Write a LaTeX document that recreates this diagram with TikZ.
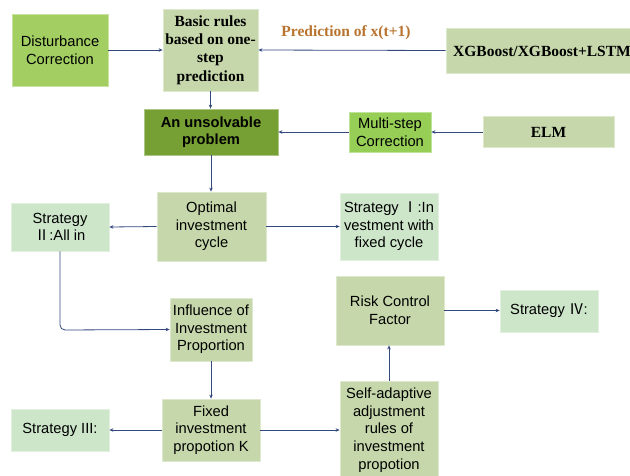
\documentclass[tikz,border=0pt]{standalone}
\usepackage{fontspec}
\setmainfont{Liberation Serif}
\setsansfont{Liberation Sans}
\newfontfamily\cjk{Noto Sans CJK SC}
\usetikzlibrary{arrows.meta}
\definecolor{olive}{HTML}{C6D8AB}
\definecolor{mint}{HTML}{CDE6CA}
\definecolor{brightg}{HTML}{A3CF62}
\definecolor{multig}{HTML}{96CE56}
\definecolor{darkolive}{HTML}{76A033}
\definecolor{arrowc}{HTML}{33497E}
\definecolor{predc}{HTML}{B8742E}
\tikzset{
  box/.style={rectangle, inner sep=0pt, align=center, line width=0.8pt,
    font=\sffamily\fontsize{14.7}{17.6}\selectfont},
  olivebox/.style={box, fill=olive, draw=olive!60!white},
  mintbox/.style={box, fill=mint, draw=mint!60!white},
  greenbox/.style={box, fill=brightg, draw=brightg!60!white},
  serifbold/.style={font=\rmfamily\bfseries\fontsize{15.5}{18.3}\selectfont},
  conn/.style={draw=arrowc, line width=0.8pt, -{Stealth[length=4pt,width=3.5pt]}},
}
\begin{document}
\begin{tikzpicture}[x=1pt,y=-1pt]
\path[use as bounding box] (0,0) rectangle (630,475);
\clip (0,0) rectangle (630,475);
\fill[white] (0,0) rectangle (630,475);

\node[greenbox, minimum width=96, minimum height=72] (dist) at (60,50) {Disturbance\\Correction};
\node[olivebox, serifbold, minimum width=95, minimum height=82] (basic) at (210.5,50) {Basic rules\\based on one-\\step\\prediction};
\node[olivebox, serifbold, minimum width=194, minimum height=45] (xgb) at (543,50.5) {};
\node[anchor=west, inner sep=0pt, serifbold] (xgbtext) at (453,51) {XGBoost/XGBoost+LSTM};
\node[inner sep=0pt, text=predc, serifbold] (pred) at (346,33) {Prediction of x(t+1)};

\node[box, fill=darkolive, draw=darkolive!60!white, font=\sffamily\bfseries\fontsize{14.7}{17.6}\selectfont, minimum width=134, minimum height=46] (unsolv) at (211,132) {An unsolvable\\problem};
\node[box, fill=multig, draw=multig!60!white, minimum width=82, minimum height=40] (multi) at (390,132) {Multi-step\\Correction};
\node[olivebox, serifbold, minimum width=131, minimum height=31] (elm) at (548.5,132) {ELM};

\node[olivebox, minimum width=109, minimum height=69] (opt) at (211.5,226.5) {Optimal\\investment\\cycle};
\node[mintbox, minimum width=98, minimum height=48] (s2) at (60,227) {Strategy\\{\cjk Ⅱ}:All in};
\node[mintbox, minimum width=98, minimum height=67] (s1) at (389,226.5) {Strategy {\cjk Ⅰ}:In\\vestment with\\fixed cycle};

\node[olivebox, minimum width=82, minimum height=63] (infl) at (211,329.5) {Influence of\\Investment\\Proportion};
\node[olivebox, minimum width=108, minimum height=69] (risk) at (390,310.5) {Risk Control\\Factor};
\node[mintbox, minimum width=98, minimum height=42] (s4) at (549,311) {Strategy {\cjk Ⅳ}:};

\node[olivebox, minimum width=98, minimum height=62] (fixed) at (211,430) {Fixed\\investment\\propotion K};
\node[mintbox, minimum width=98, minimum height=42] (s3) at (60,430) {Strategy III:};
\node[olivebox, minimum width=98, minimum height=98] (self) at (389,430) {Self-adaptive\\adjustment\\rules of\\investment\\propotion};

\coordinate (bend) at (60,330);

\draw[conn] (dist.east) -- (basic.west);
\draw[conn] (xgb.west) -- (basic.east);
\draw[conn] (basic.south) -- (basic.south |- unsolv.north);
\draw[conn] (elm.west) -- (multi.east);
\draw[conn] (multi.west) -- (unsolv.east);
\draw[conn] (unsolv.south) -- (unsolv.south |- opt.north);
\draw[conn] (opt.west) -- (s2.east);
\draw[conn] (opt.east) -- (s1.west);
\draw[conn, rounded corners=5pt] (s2.south) -- (bend) -- (infl.west);
\draw[conn] (infl.south) -- (infl.south |- fixed.north);
\draw[conn] (fixed.west) -- (s3.east);
\draw[conn] (fixed.east) -- (self.west);
\draw[conn] (self.north) -- (self.north |- risk.south);
\draw[conn] (risk.east) -- (risk.east -| s4.west);
\end{tikzpicture}
\end{document}
